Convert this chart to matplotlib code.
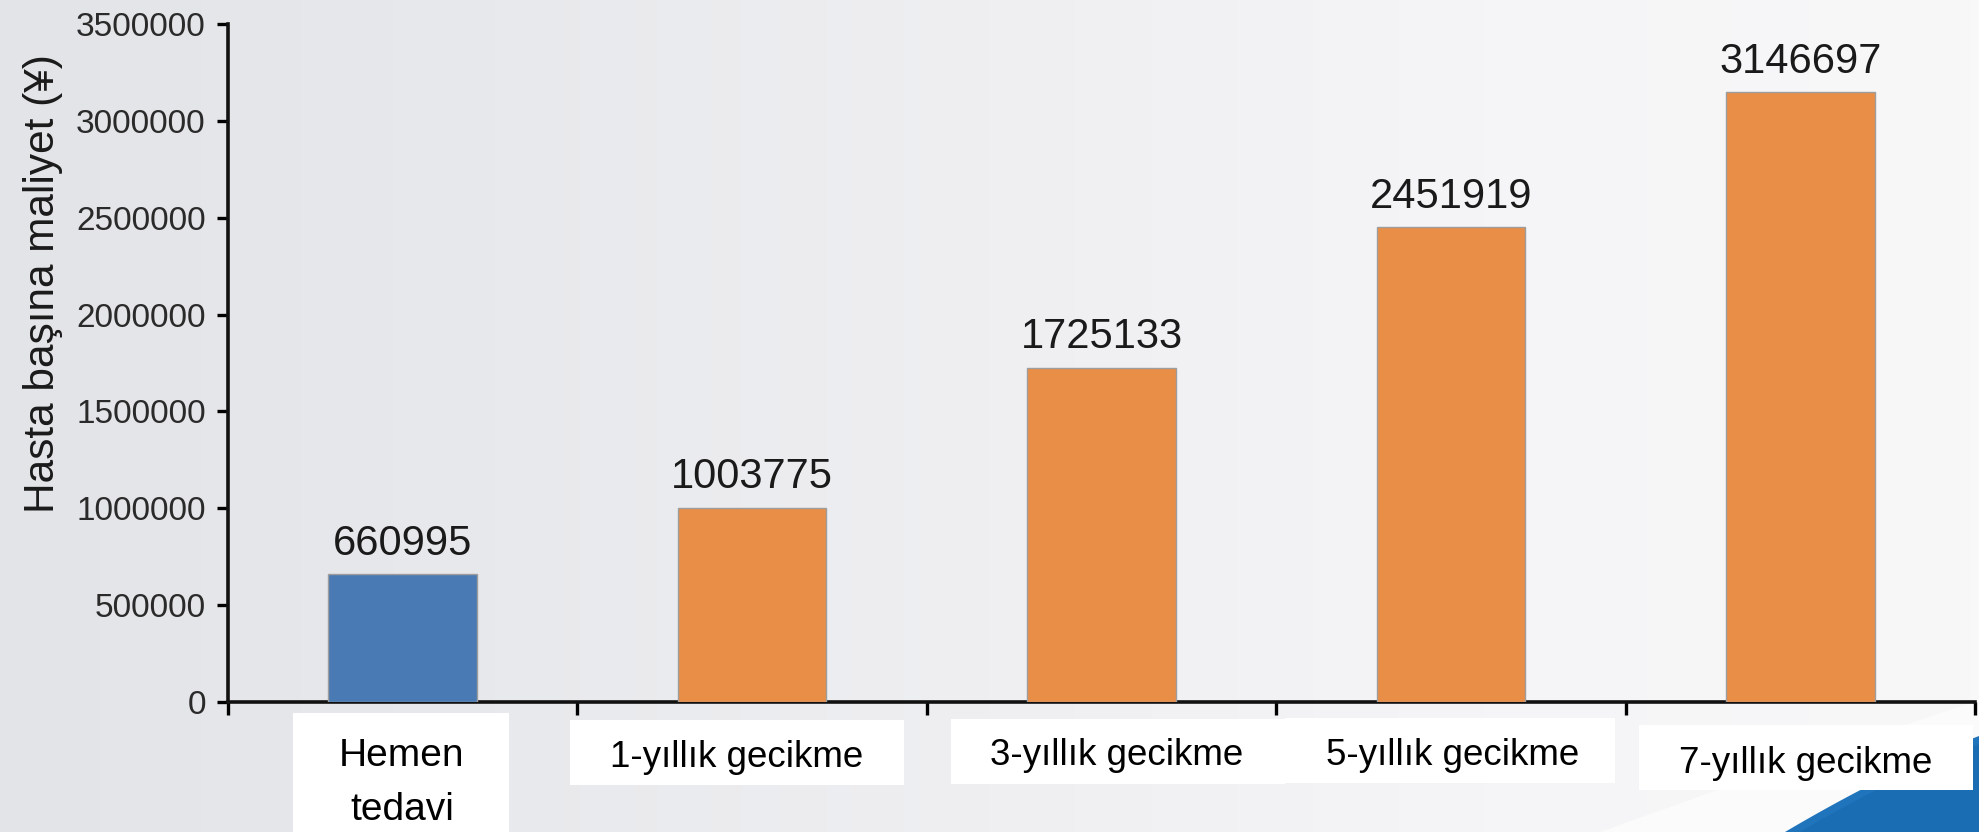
import numpy as np
import matplotlib
matplotlib.use("Agg")
import matplotlib.pyplot as plt
from matplotlib.patches import Rectangle, Polygon
from matplotlib.colors import LinearSegmentedColormap

plt.rcParams['font.family'] = ['Liberation Sans', 'DejaVu Sans']

# ---- data ----
categories = ["Hemen\ntedavi", "1-yıllık gecikme", "3-yıllık gecikme",
              "5-yıllık gecikme", "7-yıllık gecikme"]
costs = [660995, 1003775, 1725133, 2451919, 3146697]
bar_colors = ["#4a7ab3", "#e98e46", "#e98e46", "#e98e46", "#e98e46"]
y_ticks = [0, 500000, 1000000, 1500000, 2000000, 2500000, 3000000, 3500000]
y_label = "Hasta başına maliyet (¥)"

W, H = 1979, 832
fig = plt.figure(figsize=(W / 100, H / 100), dpi=100)


def fx(x):
    return x / W


def fy(y):
    return 1 - y / H


# soft grey backdrop, darker on the left
bg = fig.add_axes([0, 0, 1, 1], zorder=-10)
grad = np.linspace(0, 1, 512).reshape(1, -1)
cmap = LinearSegmentedColormap.from_list(
    "bg", ["#e2e4e7", "#e8e9ec", "#efeff2", "#f5f5f7", "#f8f8f9"])
bg.imshow(grad, aspect="auto", cmap=cmap, extent=[0, 1, 0, 1])
bg.set_xlim(0, 1)
bg.set_ylim(0, 1)
bg.axis("off")


# decorative swoosh in the lower right corner
def bezier(p0, p1, p2, n=60):
    t = np.linspace(0, 1, n)[:, None]
    return (1 - t) ** 2 * np.array(p0) + 2 * (1 - t) * t * np.array(p1) + t ** 2 * np.array(p2)


white_band = bezier((1600, 832), (1800, 760), (1979, 700))
pts = [(fx(x), fy(y)) for x, y in white_band] + [(1, 0)]
bg.add_patch(Polygon(pts, closed=True, facecolor="#fbfbfc", edgecolor="none"))
blue_band = bezier((1785, 832), (1890, 770), (1979, 736))
pts = [(fx(x), fy(y)) for x, y in blue_band] + [(1, 0)]
bg.add_patch(Polygon(pts, closed=True, facecolor="#1f74bb", edgecolor="none"))
blue_hi = bezier((1800, 832), (1895, 776), (1979, 744))
pts = [(fx(x), fy(y)) for x, y in blue_hi] + [(1, 0)]
bg.add_patch(Polygon(pts, closed=True, facecolor="#1b6db3", edgecolor="none"))

# ---- main chart ----
ax_left, ax_right, ax_top, ax_bottom = 228, 1975, 24, 702
ax = fig.add_axes([fx(ax_left), fy(ax_bottom), fx(ax_right - ax_left),
                   (ax_bottom - ax_top) / H])
ax.patch.set_alpha(0)

x = np.arange(len(costs))
ax.bar(x, costs, width=0.425, color=bar_colors, edgecolor="#9d9d9d",
       linewidth=1.0, zorder=3)

for xi, v in zip(x, costs):
    ax.annotate(f"{v}", (xi, v), xytext=(0, 14), textcoords="offset points",
                ha="center", va="baseline", fontsize=30, color="#1a1a1a")

ax.set_xlim(-0.5, len(costs) - 0.5)
ax.set_ylim(0, 3500000)
ax.set_xticks(np.arange(-0.5, len(costs), 1.0))
ax.set_xticklabels([])
ax.set_yticks(y_ticks)
ax.set_yticklabels([str(v) for v in y_ticks])

ax.tick_params(axis="y", direction="out", length=8, width=2.4,
               labelsize=24, pad=8, labelcolor="#2a2a2a")
ax.tick_params(axis="x", direction="out", length=9, width=2.4)
for side in ("top", "right"):
    ax.spines[side].set_visible(False)
for side in ("left", "bottom"):
    ax.spines[side].set_linewidth(2.6)
    ax.spines[side].set_color("#111111")

fig.text(fx(43), fy(284), y_label, rotation=90, ha="center", va="center",
         fontsize=30.5, color="#1a1a1a")

# category labels on white panels
label_boxes = [
    (293, 713, 509, 832),
    (570, 720, 904, 785),
    (951, 719, 1285, 784),
    (1285, 718, 1615, 783),
    (1639, 725, 1973, 790),
]
label_x = [402, 737, 1117, 1453, 1806]
label_baselines = [(766, 820), (767,), (765,), (765,), (773,)]
label_sizes = [28, 26.5, 26.5, 26.5, 26.5]
for (x0, y0, x1, y1), cx, bases, lab, fs in zip(label_boxes, label_x,
                                                label_baselines, categories,
                                                label_sizes):
    fig.add_artist(Rectangle((fx(x0), fy(y1)), fx(x1 - x0), (y1 - y0) / H,
                             transform=fig.transFigure, facecolor="white",
                             edgecolor="none", zorder=5))
    for line, base in zip(lab.split("\n"), bases):
        fig.text(fx(cx), fy(base), line, ha="center", va="baseline",
                 fontsize=fs, color="black", zorder=6)

fig.savefig("out.png", dpi=100)
